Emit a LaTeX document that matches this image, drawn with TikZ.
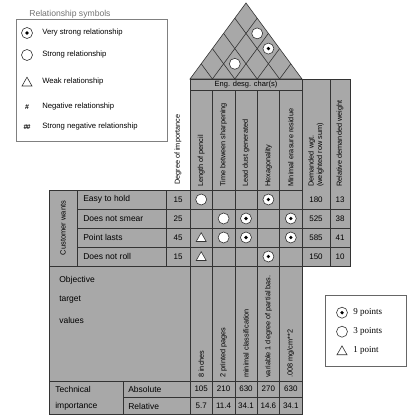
\documentclass[tikz,border=0pt]{standalone}
\usepackage{fontspec}
\setmainfont{Liberation Sans}
\newfontfamily\pointfont{Liberation Serif}
\usetikzlibrary{calc}
\definecolor{hoqgray}{gray}{0.66}
\definecolor{hoqline}{gray}{0.2}
\def\verystrong(#1,#2){\draw[fill=white] (#1,#2) circle (5.5pt); \fill (#1,#2) circle (1.8pt);}
\def\strongrel(#1,#2){\draw[fill=white] (#1,#2) circle (5.5pt);}
\def\weakrel(#1,#2){\draw[fill=white] ($(#1,#2)+(-5,4)$) -- ($(#1,#2)+(5,4)$) -- ($(#1,#2)+(0,-4.8)$) -- cycle;}
\tikzset{
	colhead/.style={rotate=90, anchor=west, inner sep=0pt, font=\fontsize{7.3}{8.5}\selectfont},
	rowtext/.style={anchor=west, inner sep=0pt, font=\fontsize{8.5}{10}\selectfont},
	cellnum/.style={inner sep=0pt, font=\fontsize{8}{9}\selectfont},
	legtext/.style={anchor=west, inner sep=0pt, font=\fontsize{7.7}{9}\selectfont},
	pointtext/.style={anchor=west, inner sep=0pt, font=\pointfont\fontsize{9}{10}\selectfont}
}

\begin{document}
\begin{tikzpicture}[x=1pt, y=-1pt, line width=0.6pt, draw=hoqline]
			%%%%% START %%%%%
			\useasboundingbox (0,0) rectangle (413,415);
			\fill[white] (0,0) rectangle (413,415);
			
			%%%%% legend: relationship symbols %%%%%
			\node[anchor=west, inner sep=0pt, text=black!55, font=\fontsize{8.6}{10}\selectfont] (symtitle) at (29, 14) {Relationship symbols};
			\draw[black!50] (16, 19) rectangle (167, 141);
			\verystrong(27, 33)
			\node[legtext] (symvs) at (42, 33) {Very strong relationship};
			\strongrel(27, 55)
			\node[legtext] (syms) at (42, 55) {Strong relationship};
			\weakrel(27, 82)
			\node[legtext] (symw) at (42, 82) {Weak relationship};
			\node[inner sep=0pt, font=\fontsize{7}{8}\bfseries] (hashn) at (27, 107) {\#};
			\node[legtext] (symn) at (42, 107) {Negative relationship};
			\node[inner sep=0pt, font=\fontsize{7}{8}\bfseries] (hashsn) at (27, 127) {\#\kern-1pt\#};
			\node[legtext] (symsn) at (42, 127) {Strong negative relationship};
			
			%%%%% roof %%%%%
			\filldraw[fill=hoqgray] (190, 79) -- (246, 3) -- (302, 79) -- cycle;
			\foreach \x in {212.4, 234.8, 257.2, 279.6} {
				\draw (\x, 79) -- ({(\x+302)/2}, {79-0.6786*(302-\x)});
				\draw (\x, 79) -- ({(\x+190)/2}, {79-0.6786*(\x-190)});
			}
			\strongrel(257.2, 33.4)
			\verystrong(268.4, 48.6)
			\strongrel(234.8, 63.8)
			
			%%%%% grey body %%%%%
			\fill[hoqgray] (190, 79) rectangle (350, 266);
			\fill[hoqgray] (49, 190) rectangle (302, 414);
			
			%%%%% grid %%%%%
			\draw (190, 79) rectangle (350, 266);
			\draw (190, 90) -- (302, 90);
			\draw (302, 79) -- (302, 414);
			\draw (330, 79) -- (330, 266);
			\draw (190, 79) -- (190, 414);
			\foreach \x in {212.4, 234.8, 257.2, 279.6}
				\draw (\x, 90) -- (\x, 414);
			\draw (49, 190) rectangle (302, 414);
			\draw (77, 190) -- (77, 266);
			\draw (166, 190) -- (166, 266);
			\foreach \y in {209, 228, 247}
				\draw (77, \y) -- (350, \y);
			\draw (49, 266) -- (350, 266);
			\draw (49, 381) -- (302, 381);
			\draw (123, 397.5) -- (302, 397.5);
			\draw (123, 381) -- (123, 414);
			
			%%%%% column heads %%%%%
			\node[inner sep=0pt, font=\fontsize{7.5}{9}\selectfont] (engchar) at (246, 84.5) {Eng. desg. char(s)};
			\node[colhead] (degimp) at (178, 185) {Degree of importance};
			\node[colhead] (hlength) at (201.2, 187) {Length of pencil};
			\node[colhead] (htime) at (223.6, 187) {Time between sharpening};
			\node[colhead] (hdust) at (246, 187) {Lead dust generated};
			\node[colhead] (hhex) at (268.4, 187) {Hexagonality};
			\node[colhead] (herase) at (290.8, 187) {Minimal erasure residue};
			\node[colhead, align=left] (hdemand) at (316, 187) {Demanded wgt.\\(weighted row sum)};
			\node[colhead] (hrel) at (340, 187) {Relative demanded weight};
			
			%%%%% customer wants %%%%%
			\node[rotate=90, inner sep=0pt, font=\fontsize{7.5}{9}\selectfont] (custwants) at (63, 228) {Customer wants};
			\node[rowtext] (wanthold) at (83, 199.5) {Easy to hold};
			\node[rowtext] (wantsmear) at (83, 218.5) {Does not smear};
			\node[rowtext] (wantpoint) at (83, 237.5) {Point lasts};
			\node[rowtext] (wantroll) at (83, 256.5) {Does not roll};
			\node[cellnum] (deg1) at (178, 199.5) {15};
			\node[cellnum] (deg2) at (178, 218.5) {25};
			\node[cellnum] (deg3) at (178, 237.5) {45};
			\node[cellnum] (deg4) at (178, 256.5) {15};
			\node[cellnum] (dem1) at (316, 199.5) {180};
			\node[cellnum] (dem2) at (316, 218.5) {525};
			\node[cellnum] (dem3) at (316, 237.5) {585};
			\node[cellnum] (dem4) at (316, 256.5) {150};
			\node[cellnum] (rel1) at (340, 199.5) {13};
			\node[cellnum] (rel2) at (340, 218.5) {38};
			\node[cellnum] (rel3) at (340, 237.5) {41};
			\node[cellnum] (rel4) at (340, 256.5) {10};
			
			%%%%% relationship matrix %%%%%
			\strongrel(201.2, 199.5)
			\verystrong(268.4, 199.5)
			\strongrel(223.6, 218.5)
			\verystrong(246, 218.5)
			\verystrong(290.8, 218.5)
			\weakrel(201.2, 237.5)
			\strongrel(223.6, 237.5)
			\verystrong(246, 237.5)
			\verystrong(290.8, 237.5)
			\weakrel(201.2, 256.5)
			\verystrong(268.4, 256.5)
			
			%%%%% target values %%%%%
			\node[rowtext] (objtext) at (59, 280) {Objective};
			\node[rowtext] (tartext) at (59, 300) {target};
			\node[rowtext] (valtext) at (59, 320) {values};
			\node[colhead] (tlength) at (201.2, 378) {8 inches};
			\node[colhead] (ttime) at (223.6, 378) {2 printed pages};
			\node[colhead] (tdust) at (246, 378) {minimal classification};
			\node[colhead] (thex) at (268.4, 378) {variable 1 degree of partial bas.};
			\node[colhead] (terase) at (290.8, 378) {.008 mg/cm**2};
			
			%%%%% technical importance %%%%%
			\node[rowtext] (techtext) at (55, 389) {Technical};
			\node[rowtext] (imptext) at (55, 406) {importance};
			\node[rowtext] (abstext) at (128, 389) {Absolute};
			\node[rowtext] (reltext) at (128, 406) {Relative};
			\node[cellnum] (abs1) at (201.2, 389.2) {105};
			\node[cellnum] (abs2) at (223.6, 389.2) {210};
			\node[cellnum] (abs3) at (246, 389.2) {630};
			\node[cellnum] (abs4) at (268.4, 389.2) {270};
			\node[cellnum] (abs5) at (290.8, 389.2) {630};
			\node[cellnum] (pct1) at (201.2, 405.8) {5.7};
			\node[cellnum] (pct2) at (223.6, 405.8) {11.4};
			\node[cellnum] (pct3) at (246, 405.8) {34.1};
			\node[cellnum] (pct4) at (268.4, 405.8) {14.6};
			\node[cellnum] (pct5) at (290.8, 405.8) {34.1};
			
			%%%%% legend: points %%%%%
			\draw[black!60] (325, 295) rectangle (406, 366);
			\verystrong(342, 312.7)
			\node[pointtext] (pts9) at (353, 312.7) {9 points};
			\strongrel(342, 331.7)
			\node[pointtext] (pts3) at (353, 331.7) {3 points};
			\weakrel(342, 350.7)
			\node[pointtext] (pts1) at (353, 350.7) {1 point};
			%%%%% END %%%%%
\end{tikzpicture}
\end{document}
